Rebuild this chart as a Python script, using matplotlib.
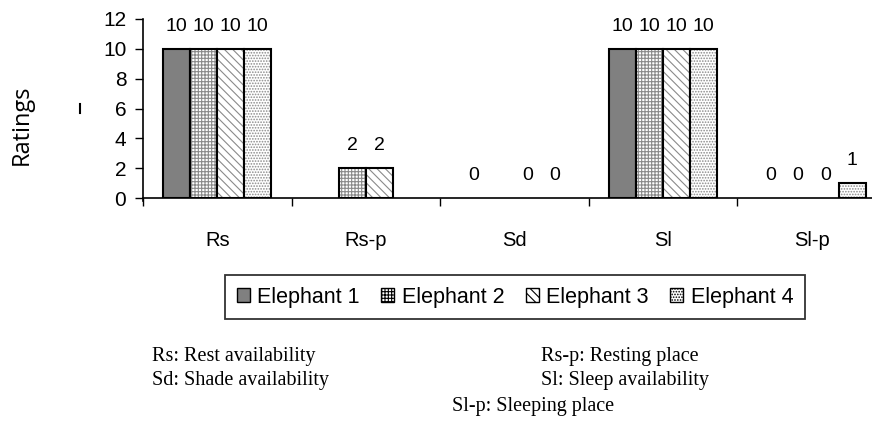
import numpy as np
import matplotlib.pyplot as plt
from matplotlib.patches import Patch
from matplotlib.lines import Line2D

plt.rcParams['font.family'] = ['Liberation Sans', 'DejaVu Sans']
plt.rcParams['hatch.linewidth'] = 0.8

# 评分数据 (nan = 未记录, 不标数值)
categories = ['Rs', 'Rs-p', 'Sd', 'Sl', 'Sl-p']
series_names = ['Elephant 1', 'Elephant 2', 'Elephant 3', 'Elephant 4']
elephant_1 = [10, np.nan, 0, 10, 0]
elephant_2 = [10, 2, np.nan, 10, 0]
elephant_3 = [10, 2, 0, 10, 0]
elephant_4 = [10, np.nan, 0, 10, 1]
y_ticks = [0, 2, 4, 6, 8, 10, 12]

notes_left = ['Rs: Rest availability', 'Sd: Shade availability']
notes_right = ['Rs-p: Resting place', 'Sl: Sleep availability']
note_last = 'Sl-p: Sleeping place'

# 每个系列的填充样式: (底色, 纹理)
styles = [('#808080', None), ('white', '+++++'), ('white', '\\\\\\\\'), ('white', '......')]

W, H = 872, 443
fig = plt.figure(figsize=(W / 100, H / 100), dpi=100)
ax = fig.add_axes([143 / W, 1 - 198 / H, (886 - 143) / W, 179 / H])

all_series = [elephant_1, elephant_2, elephant_3, elephant_4]
bar_w = 0.182
x = np.arange(len(categories)) + 0.5
for i, vals in enumerate(all_series):
    vals = np.array(vals, dtype=float)
    pos = x + (i - 1.5) * bar_w
    face, hatch = styles[i]
    h = np.nan_to_num(vals)
    show = h > 0
    # 先画纹理(灰色), 再画黑色边框; 高度为0的不画
    ax.bar(pos[show], h[show], bar_w, color=face, edgecolor='#8a8a8a', hatch=hatch, linewidth=0)
    ax.bar(pos[show], h[show], bar_w, fill=False, edgecolor='black', linewidth=1.5)
    for p, v in zip(pos, vals):
        if np.isnan(v):
            continue
        ax.annotate(f'{v:g}', (p, v), xytext=(0, 10), textcoords='offset points',
                    ha='center', va='bottom', fontsize=14)

ax.set_xlim(0, 5)
ax.set_ylim(0, 12)
ax.set_yticks(y_ticks)
ax.tick_params(axis='y', direction='out', length=6, width=1, labelsize=15, pad=6)
ax.set_xticks([0, 1, 2, 3, 4, 5])
ax.set_xticklabels([])
ax.tick_params(axis='x', which='major', direction='out', length=6, width=1)
ax.set_xticks(x, minor=True)
ax.set_xticklabels(categories, minor=True, fontsize=14.5)
ax.tick_params(axis='x', which='minor', length=0, pad=24)
for s in ['top', 'right']:
    ax.spines[s].set_visible(False)
for s in ['left', 'bottom']:
    ax.spines[s].set_linewidth(1.2)
ax.spines['left'].set_bounds(-0.2, 12)

fig.text(22 / W, 1 - 125 / H, 'Ratings', rotation=90, ha='center', va='center',
         fontsize=17, family=['Open Sans', 'DejaVu Sans'])
fig.add_artist(Line2D([80 / W, 80 / W], [1 - 104 / H, 1 - 113 / H], color='black', lw=1.5))

handles = []
for face, hatch in styles:
    handles.append(Patch(facecolor=face, edgecolor='black', hatch=hatch, linewidth=1))
leg = fig.legend(handles, series_names, loc='center', bbox_to_anchor=(515 / W, 1 - 297 / H),
                 ncol=4, fontsize=15.5, frameon=True, fancybox=False, edgecolor='black',
                 handlelength=0.6, handleheight=0.6, handletextpad=0.35, columnspacing=1.0,
                 borderpad=0.55, borderaxespad=0)
leg.get_frame().set_linewidth(1.3)

serif = dict(fontsize=14.5, family=['Liberation Serif', 'DejaVu Serif'], va='center')
for k, t in enumerate(notes_left):
    fig.text(152 / W, 1 - (357 + 24 * k) / H, t, **serif)
for k, t in enumerate(notes_right):
    fig.text(541 / W, 1 - (357 + 24 * k) / H, t, **serif)
fig.text(452 / W, 1 - 406 / H, note_last, **serif)

fig.savefig('out.png', dpi=100)
